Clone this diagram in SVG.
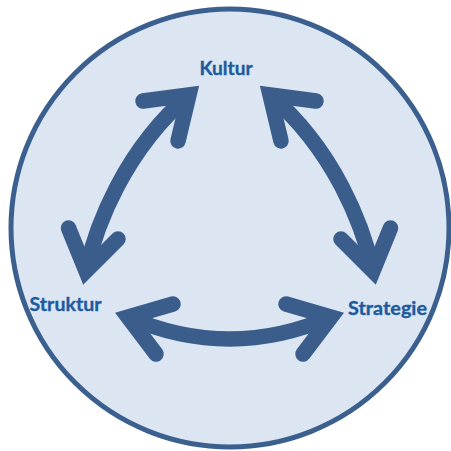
<svg xmlns="http://www.w3.org/2000/svg" width="451" height="451" viewBox="0 0 451 451">
  <style>
    .shaft { fill: none; stroke: #3a5d8b; stroke-width: 15.5; stroke-linecap: butt; }
    .head { fill: none; stroke: #3a5d8b; stroke-width: 15.5; stroke-linecap: round; stroke-linejoin: miter; stroke-miterlimit: 6; }
    .label { font-family: Lato, "Open Sans", "Liberation Sans", sans-serif; font-weight: bold; font-size: 19px; fill: #1d5b9f; stroke: #1d5b9f; stroke-width: 0.35; }
  </style>

  <!-- background disc -->
  <circle id="frame" cx="230" cy="228" r="219" fill="#dce6f2" stroke="#3b5f8e" stroke-width="5"/>

  <!-- curved double-headed arrows between the three labels -->
  <g id="connectors">
    <g id="kultur-struktur">
      <path class="shaft" d="M86,271 C96,225 125,150 189,95"/>
      <path class="head" d="M143,101 L189,95 L178,141"/>
      <path class="head" d="M68.5,228 L86,271 L118,239"/>
    </g>
    <g id="kultur-strategie">
      <path class="shaft" d="M373,271 C363,225 334,150 270,95"/>
      <path class="head" d="M316,101 L270,95 L281,141"/>
      <path class="head" d="M390.5,228 L373,271 L341,239"/>
    </g>
    <g id="struktur-strategie">
      <path class="shaft" d="M128,317 Q229.5,361 331,317"/>
      <path class="head" d="M173,304 L128,317 L156,354"/>
      <path class="head" d="M286,304 L331,317 L303,354"/>
    </g>
  </g>

  <g id="kultur">
    <text class="label" x="199.5" y="75" textLength="53" lengthAdjust="spacingAndGlyphs">Kultur</text>
  </g>
  <g id="struktur">
    <text class="label" x="29.5" y="311" textLength="72" lengthAdjust="spacingAndGlyphs">Struktur</text>
  </g>
  <g id="strategie">
    <text class="label" x="348" y="315" textLength="79" lengthAdjust="spacingAndGlyphs">Strategie</text>
  </g>
</svg>
